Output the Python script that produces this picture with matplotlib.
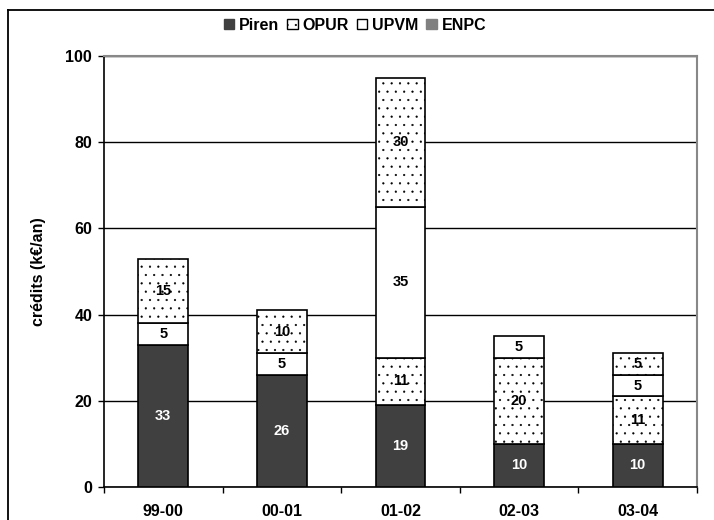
import matplotlib
matplotlib.use("Agg")
import matplotlib.pyplot as plt
from matplotlib.patches import Patch
from matplotlib.lines import Line2D
import numpy as np

plt.rcParams['font.family'] = ['Liberation Sans', 'DejaVu Sans']
plt.rcParams['font.weight'] = 'bold'
plt.rcParams['hatch.color'] = '#8a8a8a'
plt.rcParams['hatch.linewidth'] = 0.35

categories = ["99-00", "00-01", "01-02", "02-03", "03-04"]
piren = [33, 26, 19, 10, 10]
opur_low = [0, 0, 11, 20, 11]
upvm = [5, 5, 35, 5, 5]
opur_high = [15, 10, 30, 0, 5]
enpc = [0, 0, 0, 0, 0]
legend_labels = ["Piren", "OPUR", "UPVM", "ENPC"]

W, H = 714, 520
fig = plt.figure(figsize=(W / 100, H / 100), dpi=100)
ax = fig.add_axes([104 / W, 1 - 487 / H, (697 - 104) / W, (487 - 56) / H])

x = np.arange(len(categories))
bw = 0.42
layers = [
    (piren, dict(color='#404040', hatch=None), 'white'),
    (opur_low, dict(color='white', hatch='..'), 'black'),
    (upvm, dict(color='white', hatch=None), 'black'),
    (opur_high, dict(color='white', hatch='..'), 'black'),
    (enpc, dict(color='#808080', hatch=None), 'black'),
]
bottom = np.zeros(len(categories))
for vals, style, tcol in layers:
    vals = np.array(vals, dtype=float)
    lws = [1.2 if v > 0 else 0 for v in vals]
    ax.bar(x, vals, bw, bottom=bottom, color=style['color'], hatch=style['hatch'],
           edgecolor='black', linewidth=lws, zorder=3)
    for xi, v, b in zip(x, vals, bottom):
        if v > 0:
            ax.text(xi, b + v / 2, f"{int(v)}", ha='center', va='center', color=tcol,
                    fontsize=10.5, fontweight='bold', zorder=4)
    bottom += vals

ax.set_xlim(-0.5, len(categories) - 0.5)
ax.set_ylim(0, 100)
ax.set_yticks([0, 20, 40, 60, 80, 100])
ax.set_xticks(x)
ax.set_xticklabels(categories, fontsize=11.5, fontweight='bold')
ax.set_xticks(np.arange(len(categories) + 1) - 0.5, minor=True)
ax.tick_params(axis='x', which='major', length=0, pad=12)
ax.tick_params(axis='x', which='minor', length=4, width=1, direction='out')
ax.tick_params(axis='y', length=4.5, width=1, direction='out', labelsize=11.5, pad=4)
for lbl in ax.get_yticklabels():
    lbl.set_fontweight('bold')
ax.yaxis.grid(True, color='black', linewidth=1, zorder=0)
ax.set_axisbelow(True)
ax.spines['left'].set_color('black')
ax.spines['bottom'].set_color('black')
ax.spines['left'].set_linewidth(1.2)
ax.spines['bottom'].set_linewidth(1.2)
ax.spines['top'].set_color('#888888')
ax.spines['right'].set_color('#888888')
ax.spines['top'].set_linewidth(1.5)
ax.spines['right'].set_linewidth(1.5)
ax.set_ylabel("crédits (k€/an)", fontsize=11.5, fontweight='bold', labelpad=14)

handles = [
    Patch(facecolor='#404040', edgecolor='#404040'),
    Patch(facecolor='white', edgecolor='black', hatch='..'),
    Patch(facecolor='white', edgecolor='black'),
    Patch(facecolor='#808080', edgecolor='#808080'),
]
fig.legend(handles, legend_labels, loc='center', bbox_to_anchor=(355 / W, 1 - 25 / H),
           ncol=4, frameon=False, prop={'weight': 'bold', 'size': 11.5},
           handlelength=0.65, handleheight=0.65, handletextpad=0.3, columnspacing=0.5)

# outer frame (left and top edges visible)
fig.add_artist(Line2D([8 / W, 8 / W], [0, 1 - 10 / H], color='black', linewidth=1.3))
fig.add_artist(Line2D([8 / W, 1], [1 - 10 / H, 1 - 10 / H], color='black', linewidth=1.3))

fig.savefig("out.png", dpi=100)
